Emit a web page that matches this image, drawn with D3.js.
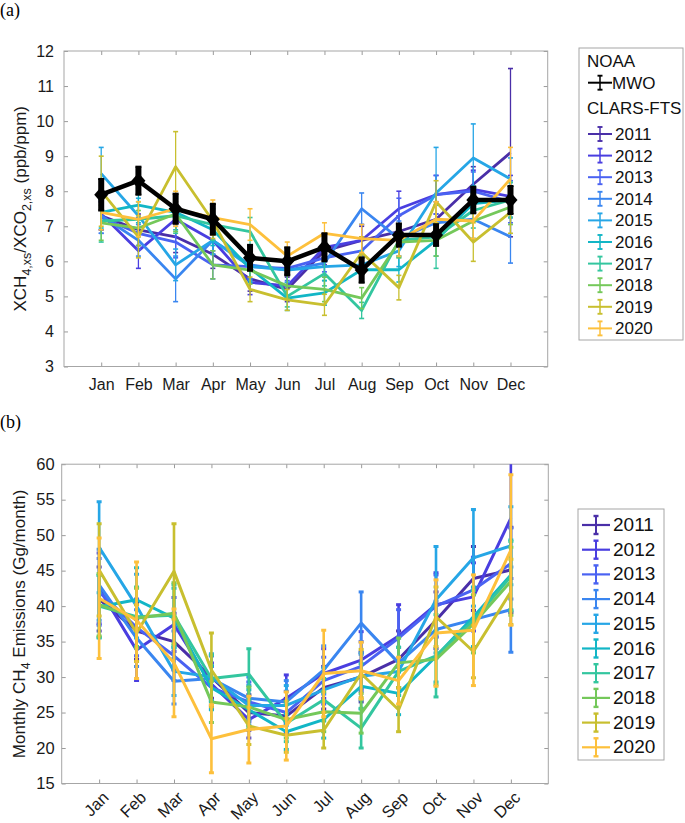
<!DOCTYPE html>
<html>
<head>
<meta charset="utf-8">
<title>XCH4/XCO2 ratio and monthly CH4 emissions</title>
<script src="https://d3js.org/d3.v7.min.js"></script>
<style>
  html, body { margin: 0; background: #fff; overflow: hidden; }
  svg { display: block; font-family: "Liberation Sans", Arial, Helvetica, sans-serif; }
  .tick line { stroke: #9a9a9a; }
  .tick text { fill: #1a1a1a; }
</style>
</head>
<body>
<svg id="fig" width="685" height="823"></svg>
<script>
// ---- data ----
const months = ["Jan", "Feb", "Mar", "Apr", "May", "Jun", "Jul", "Aug", "Sep", "Oct", "Nov", "Dec"];
const years = ["2011", "2012", "2013", "2014", "2015", "2016", "2017", "2018", "2019", "2020"];
const yearColors = ["#4a2fa8", "#4a3ee0", "#4a62f2", "#3a86f0", "#26a6e6", "#12b6c6", "#33c69f", "#74c85a", "#c8bf2f", "#fdc03c"];

const ratioTicks = [3, 4, 5, 6, 7, 8, 9, 10, 11, 12];
const emisTicks = [15, 20, 25, 30, 35, 40, 45, 50, 55, 60];

// NOAA MWO ratio (ppb/ppm)
const mwoRatio = [7.9, 8.3, 7.5, 7.2, 6.1, 6.0, 6.4, 5.75, 6.75, 6.75, 7.75, 7.75];
const mwoRatioErr = [0.45, 0.4, 0.43, 0.44, 0.37, 0.4, 0.4, 0.36, 0.33, 0.31, 0.38, 0.4];

// CLARS-FTS ratio (ppb/ppm)
const ratio2011 = [7.3, 6.9, 6.7, 6.2, 5.5, 5.2, 6.3, 6.6, 6.85, 7.2, 8.2, 9.1];
const ratio2012 = [7.35, 6.3, 7.2, 6.6, 5.4, 5.3, 6.4, 6.6, 7.5, 7.9, 8.05, 7.85];
const ratio2013 = [7.25, 6.8, 6.55, 5.9, 5.85, 5.8, 6.1, 6.3, 7.3, 7.9, 8.0, 7.7];
const ratio2014 = [7.3, 6.6, 5.5, 6.6, 5.9, 5.75, 5.95, 7.5, 6.65, 7.1, 7.2, 6.7];
const ratio2015 = [8.5, 7.3, 5.9, 6.6, 5.85, 5.75, 5.85, 5.9, 6.3, 7.95, 8.95, 8.35];
const ratio2016 = [7.4, 7.6, 7.4, 6.9, 5.8, 4.95, 5.1, 5.76, 5.76, 6.6, 7.65, 7.75];
const ratio2017 = [7.15, 7.2, 7.3, 7.05, 6.85, 5.0, 5.65, 4.6, 6.6, 6.7, 7.45, 7.75];
const ratio2018 = [7.1, 6.95, 7.35, 5.9, 5.75, 5.3, 5.2, 4.95, 6.55, 6.6, 7.15, 7.55];
const ratio2019 = [8.0, 6.7, 8.7, 7.15, 5.2, 4.9, 4.76, 6.25, 5.25, 7.7, 6.55, 7.4];
const ratio2020 = [7.4, 7.2, 7.5, 7.25, 7.05, 6.15, 6.8, 6.65, 6.6, 7.2, 7.15, 8.35];

const ratioErr2011 = [0.4, 0.45, 0.45, 0.4, 0.35, 0.35, 0.4, 0.4, 0.45, 0.5, 0.5, 2.4];
const ratioErr2012 = [0.45, 0.5, 0.5, 0.4, 0.35, 0.35, 0.4, 0.45, 0.5, 0.55, 0.55, 0.6];
const ratioErr2013 = [0.45, 0.45, 0.45, 0.4, 0.35, 0.35, 0.4, 0.4, 0.5, 0.55, 0.55, 0.6];
const ratioErr2014 = [0.5, 0.45, 0.65, 0.4, 0.4, 0.35, 0.4, 0.45, 0.5, 0.5, 0.55, 0.75];
const ratioErr2015 = [0.75, 0.5, 0.45, 0.4, 0.4, 0.35, 0.4, 0.4, 0.45, 1.3, 0.97, 0.6];
const ratioErr2016 = [0.45, 0.5, 0.5, 0.45, 0.4, 0.35, 0.35, 0.35, 0.35, 0.45, 0.5, 0.5];
const ratioErr2017 = [0.6, 0.5, 0.5, 0.45, 0.4, 0.3, 0.35, 0.23, 0.45, 0.9, 0.5, 0.5];
const ratioErr2018 = [0.5, 0.5, 0.5, 0.4, 0.4, 0.35, 0.35, 0.3, 0.45, 0.45, 0.5, 0.5];
const ratioErr2019 = [1.0, 0.6, 1.0, 0.5, 0.35, 0.3, 0.3, 0.45, 0.35, 0.6, 0.55, 0.6];
const ratioErr2020 = [0.5, 0.5, 0.5, 0.5, 0.45, 0.4, 0.3, 0.4, 0.45, 0.5, 0.5, 0.9];

// Monthly CH4 emissions (Gg/month)
const emis2011 = [41.0, 36.5, 35.0, 30.0, 25.0, 24.5, 28.5, 30.0, 32.5, 38.0, 43.9, 45.1];
const emis2012 = [42.5, 33.8, 37.4, 29.0, 24.0, 27.0, 30.5, 32.4, 35.8, 40.2, 41.3, 52.4];
const emis2013 = [42.0, 37.0, 33.0, 28.5, 26.5, 25.0, 29.5, 31.5, 35.5, 40.0, 42.3, 46.0];
const emis2014 = [43.0, 35.5, 29.4, 29.8, 27.0, 26.5, 31.0, 37.6, 32.0, 36.7, 38.1, 39.5];
const emis2015 = [48.3, 40.0, 30.8, 30.0, 26.0, 26.0, 28.2, 30.1, 30.8, 40.9, 46.8, 48.5];
const emis2016 = [39.9, 40.9, 38.3, 28.5, 25.4, 22.3, 24.0, 28.7, 27.7, 32.9, 38.5, 44.4];
const emis2017 = [40.0, 38.5, 38.7, 29.8, 30.4, 23.5, 26.8, 22.8, 30.8, 33.0, 38.0, 44.2];
const emis2018 = [40.2, 38.3, 39.0, 26.5, 25.8, 24.0, 25.1, 24.9, 32.0, 32.5, 37.5, 43.5];
const emis2019 = [45.1, 36.2, 44.9, 31.0, 23.1, 21.8, 22.5, 30.5, 25.4, 38.5, 33.6, 42.0];
const emis2020 = [41.1, 38.0, 32.0, 21.3, 22.6, 23.1, 30.5, 30.9, 29.5, 36.2, 36.6, 47.9];

const emisErr2011 = [4.5, 4.0, 4.0, 3.0, 2.5, 2.5, 3.0, 3.5, 4.0, 4.0, 4.5, 6.0];
const emisErr2012 = [5.0, 4.3, 3.8, 3.0, 2.6, 3.3, 3.5, 4.0, 4.4, 4.5, 4.8, 8.5];
const emisErr2013 = [4.7, 4.0, 3.5, 3.0, 2.8, 3.0, 3.3, 3.5, 4.0, 4.4, 4.6, 5.0];
const emisErr2014 = [5.0, 4.0, 3.2, 3.2, 3.0, 3.0, 3.4, 4.4, 3.5, 4.0, 4.2, 6.0];
const emisErr2015 = [6.4, 4.5, 3.4, 3.3, 2.8, 2.8, 3.1, 3.3, 3.4, 7.5, 6.8, 5.5];
const emisErr2016 = [4.4, 4.5, 4.2, 3.1, 2.8, 2.5, 2.6, 3.2, 3.0, 3.6, 4.2, 4.9];
const emisErr2017 = [4.4, 4.2, 4.3, 3.3, 3.6, 2.6, 3.0, 2.8, 3.4, 5.8, 4.2, 4.9];
const emisErr2018 = [4.4, 4.2, 4.3, 2.9, 2.8, 2.6, 2.8, 2.8, 3.5, 3.6, 4.1, 4.8];
const emisErr2019 = [6.5, 4.0, 6.7, 5.2, 2.6, 2.4, 2.5, 3.4, 3.1, 4.2, 3.7, 4.6];
const emisErr2020 = [8.5, 8.2, 7.6, 4.8, 4.7, 4.8, 6.1, 4.0, 3.3, 7.5, 7.8, 10.6];

const ratioSeries = [ratio2011, ratio2012, ratio2013, ratio2014, ratio2015, ratio2016, ratio2017, ratio2018, ratio2019, ratio2020];
const ratioErrs = [ratioErr2011, ratioErr2012, ratioErr2013, ratioErr2014, ratioErr2015, ratioErr2016, ratioErr2017, ratioErr2018, ratioErr2019, ratioErr2020];
const emisSeries = [emis2011, emis2012, emis2013, emis2014, emis2015, emis2016, emis2017, emis2018, emis2019, emis2020];
const emisErrs = [emisErr2011, emisErr2012, emisErr2013, emisErr2014, emisErr2015, emisErr2016, emisErr2017, emisErr2018, emisErr2019, emisErr2020];

// ---- drawing ----
const svg = d3.select("#fig");
const monthIdx = d3.range(1, 13);

function drawAxes(x, y, yTicks, opts) {
  const g = svg.append("g");
  const [x0, x1] = x.range();
  const [yb, yt] = y.range();

  const bx = g.append("g").attr("transform", "translate(0," + yb + ")")
    .call(d3.axisBottom(x).tickValues(monthIdx).tickFormat(d => months[d - 1])
      .tickSizeInner(-4).tickSizeOuter(0).tickPadding(opts.xPad));
  g.append("g").attr("transform", "translate(0," + yt + ")")
    .call(d3.axisTop(x).tickValues(monthIdx).tickFormat("").tickSizeInner(-4).tickSizeOuter(0));
  g.append("g").attr("transform", "translate(" + x0 + ",0)")
    .call(d3.axisLeft(y).tickValues(yTicks).tickSizeInner(-4).tickSizeOuter(0).tickPadding(opts.yPad));
  g.append("g").attr("transform", "translate(" + x1 + ",0)")
    .call(d3.axisRight(y).tickValues(yTicks).tickFormat("").tickSizeInner(-4).tickSizeOuter(0));

  g.selectAll(".domain").remove();
  g.selectAll("g").attr("font-size", opts.fontSize).attr("font-family", null);

  if (opts.rotate) {
    bx.selectAll("text")
      .attr("text-anchor", "end")
      .attr("y", 0).attr("dy", "0.35em")
      .attr("transform", "translate(6,11) rotate(-45)");
  }

  g.append("rect")
    .attr("x", x0).attr("y", yt)
    .attr("width", x1 - x0).attr("height", yb - yt)
    .attr("fill", "none").attr("stroke", "#a6a6a6").attr("stroke-width", 1);
}

function drawSeries(parent, x, y, values, errs, color, st) {
  const g = parent.append("g");
  g.append("path")
    .datum(values)
    .attr("fill", "none")
    .attr("stroke", color)
    .attr("stroke-width", st.lineW)
    .attr("stroke-linejoin", "round")
    .attr("d", d3.line().x((d, i) => x(i + 1)).y(d => y(d)));

  const bars = g.selectAll("g.eb").data(values).enter().append("g")
    .attr("stroke", color);
  bars.append("line")
    .attr("x1", (d, i) => x(i + 1)).attr("x2", (d, i) => x(i + 1))
    .attr("y1", (d, i) => y(d - errs[i])).attr("y2", (d, i) => y(d + errs[i]))
    .attr("stroke-width", st.barW);
  [-1, 1].forEach(s => {
    bars.append("line")
      .attr("x1", (d, i) => x(i + 1) - st.cap).attr("x2", (d, i) => x(i + 1) + st.cap)
      .attr("y1", (d, i) => y(d + s * errs[i])).attr("y2", (d, i) => y(d + s * errs[i]))
      .attr("stroke-width", st.capW);
  });
  return g;
}

// ---------- panel (a) ----------
const xA = d3.scaleLinear().domain([0, 13]).range([64, 547.7]);
const yA = d3.scaleLinear().domain([3, 12]).range([366.5, 51]);

drawAxes(xA, yA, ratioTicks, { xPad: 12, yPad: 10, fontSize: 16 });

const plotA = svg.append("g");
ratioSeries.forEach((s, i) => {
  drawSeries(plotA, xA, yA, s, ratioErrs[i], yearColors[i], { lineW: 2.8, barW: 1.3, cap: 2.5, capW: 1.6 });
});

// MWO on top
const mwo = drawSeries(plotA, xA, yA, mwoRatio, mwoRatioErr, "#000", { lineW: 4.5, barW: 6, cap: 3, capW: 2 });
mwo.selectAll("path.dia").data(mwoRatio).enter().append("path")
  .attr("class", "dia")
  .attr("transform", (d, i) => "translate(" + xA(i + 1) + "," + yA(d) + ")")
  .attr("d", "M0,-8L7,0L0,8L-7,0Z")
  .attr("fill", "#000");

// y label (a)
const labA = svg.append("text")
  .attr("transform", "translate(25.5," + ((yA(3) + yA(12)) / 2) + ") rotate(-90)")
  .attr("text-anchor", "middle").attr("font-size", 17).attr("fill", "#1a1a1a");
labA.append("tspan").text("XCH");
labA.append("tspan").attr("font-size", 12.5).attr("dy", 5).text("4,xs");
labA.append("tspan").attr("dy", -5).text("/XCO");
labA.append("tspan").attr("font-size", 12.5).attr("dy", 5).text("2,xs");
labA.append("tspan").attr("dy", -5).text(" (ppb/ppm)");

svg.append("text").attr("x", 0).attr("y", 16)
  .attr("font-family", "'Liberation Serif', 'Times New Roman', serif")
  .attr("font-size", 18).text("(a)");

// legend (a)
const legA = svg.append("g").attr("font-size", 17).attr("fill", "#111");
legA.append("rect").attr("x", 579).attr("y", 48).attr("width", 104).attr("height", 292)
  .attr("fill", "#fff").attr("stroke", "#a6a6a6");
legA.append("text").attr("x", 587).attr("y", 66.5).text("NOAA");
function legItem(g, cx, cy, half, color, lw, barHalf, label, tx, thin) {
  g.append("line").attr("x1", cx - half).attr("x2", cx + half).attr("y1", cy).attr("y2", cy)
    .attr("stroke", color).attr("stroke-width", lw);
  g.append("line").attr("x1", cx).attr("x2", cx).attr("y1", cy - barHalf).attr("y2", cy + barHalf)
    .attr("stroke", color).attr("stroke-width", thin);
  [-1, 1].forEach(s => g.append("line")
    .attr("x1", cx - 2.5).attr("x2", cx + 2.5).attr("y1", cy + s * barHalf).attr("y2", cy + s * barHalf)
    .attr("stroke", color).attr("stroke-width", thin + 0.4));
  g.append("text").attr("x", tx).attr("y", cy + 6).text(label);
}
legItem(legA, 600, 82.7, 12, "#000", 2, 7, "MWO", 612, 1.5);
legA.append("text").attr("x", 587).attr("y", 114).text("CLARS-FTS");
years.forEach((yr, i) => {
  legItem(legA, 600, 134 + i * 21.6, 12, yearColors[i], 2, 7, yr, 615, 1.5);
});

// ---------- panel (b) ----------
const xB = d3.scaleLinear().domain([0, 13]).range([61.7, 548.3]);
const yB = d3.scaleLinear().domain([15, 60]).range([783.5, 464.2]);

drawAxes(xB, yB, emisTicks, { xPad: 0, yPad: 7, fontSize: 16.5, rotate: true });

svg.append("clipPath").attr("id", "clipB").append("rect")
  .attr("x", xB(0)).attr("y", yB(60)).attr("width", xB(13) - xB(0)).attr("height", yB(15) - yB(60));
const plotB = svg.append("g").attr("clip-path", "url(#clipB)");
emisSeries.forEach((s, i) => {
  drawSeries(plotB, xB, yB, s, emisErrs[i], yearColors[i], { lineW: 3, barW: 2.6, cap: 2.5, capW: 3 });
});

const labB = svg.append("text")
  .attr("transform", "translate(25," + ((yB(15) + yB(60)) / 2) + ") rotate(-90)")
  .attr("text-anchor", "middle").attr("font-size", 17).attr("fill", "#1a1a1a");
labB.append("tspan").text("Monthly CH");
labB.append("tspan").attr("font-size", 12.5).attr("dy", 5).text("4");
labB.append("tspan").attr("dy", -5).text(" Emissions (Gg/month)");

svg.append("text").attr("x", 0).attr("y", 428)
  .attr("font-family", "'Liberation Serif', 'Times New Roman', serif")
  .attr("font-size", 18).text("(b)");

// legend (b)
const legB = svg.append("g").attr("font-size", 19).attr("fill", "#111");
legB.append("rect").attr("x", 578).attr("y", 509).attr("width", 86).attr("height", 251)
  .attr("fill", "#fff").attr("stroke", "#a6a6a6");
years.forEach((yr, i) => {
  legItem(legB, 596, 525 + i * 24.7, 14, yearColors[i], 2.2, 9, yr, 613, 2);
});
</script>
</body>
</html>
